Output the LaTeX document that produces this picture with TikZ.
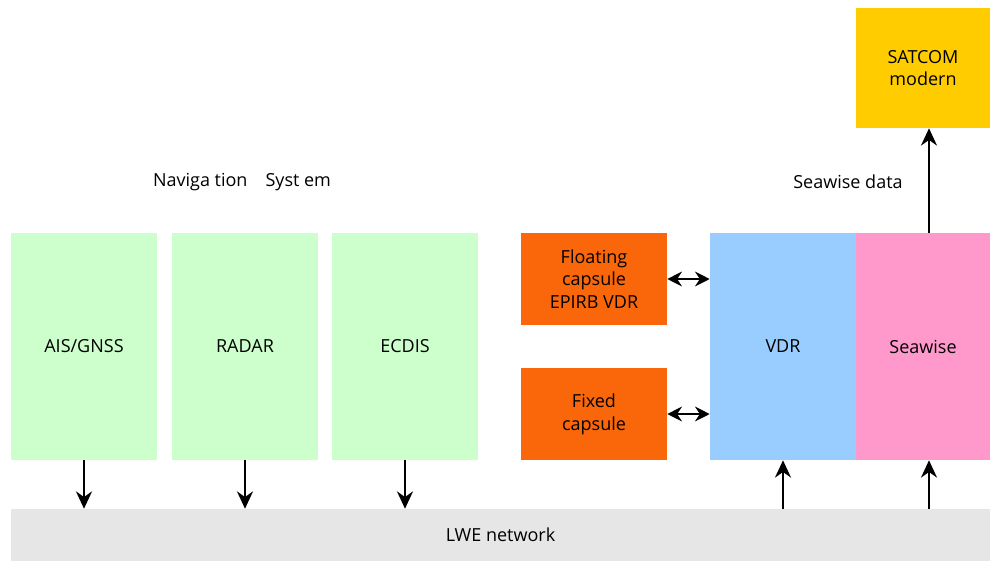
\documentclass[tikz,border=0pt]{standalone}
\usepackage{fontspec}
\setmainfont{Open Sans}
\usetikzlibrary{arrows.meta}
\definecolor{navgreen}{RGB}{204,255,204}
\definecolor{capsorange}{RGB}{250,102,10}
\definecolor{vdrblue}{RGB}{153,204,255}
\definecolor{swpink}{RGB}{255,153,204}
\definecolor{satyellow}{RGB}{255,204,0}
\definecolor{netgray}{RGB}{230,230,230}
\tikzstyle{block} = [rectangle, inner sep=0pt, text centered, align=center, font=\fontsize{13.5}{17}\selectfont]
\tikzstyle{navblock} = [block, fill=navgreen, minimum width=109.5pt, minimum height=170.25pt]
\tikzstyle{capsule} = [block, fill=capsorange, minimum width=109.5pt, minimum height=69pt]
\tikzstyle{line} = [draw, line width=1.5pt, -{Stealth[length=13pt,width=12pt]}]
\tikzstyle{dline} = [draw, line width=1.5pt, {Stealth[length=11pt,width=11pt]}-{Stealth[length=11pt,width=11pt]}]

\begin{document}
\begin{tikzpicture}[x=0.75pt, y=-0.75pt]
	\useasboundingbox (0,0) rectangle (990,561);
	\node [navblock] (ais) at (84,346.5) {AIS/GNSS};
	\node [navblock] (radar) at (245,346.5) {RADAR};
	\node [navblock] (ecdis) at (405,346.5) {ECDIS};
	\node [block] (navlabel) at (242,182) {Naviga tion\quad Syst em};
	
	\node [capsule] (floating) at (594,279) {Floating\\capsule\\EPIRB VDR};
	\node [capsule] (fixed) at (594,414) {Fixed\\capsule};
	
	\node [block, fill=vdrblue, minimum width=109.5pt, minimum height=170.25pt] (vdr) at (783,346.5) {VDR};
	\node [block, fill=swpink, minimum width=100.5pt, minimum height=170.25pt] (seawise) at (923,346.5) {Seawise};
	\node [block, fill=satyellow, minimum width=100.5pt, minimum height=90pt] (satcom) at (923,68) {SATCOM\\modern};
	\node [block] (swdata) at (848,182) {Seawise data};
	
	\node [block, fill=netgray, minimum width=734.25pt, minimum height=39pt] (lwe) at (500.5,535) {LWE network};
	\coordinate (swlink) at (929,0);
	
	\path[line] (ais.south) -- (ais |- lwe.north);
	\path[line] (radar.south) -- (radar |- lwe.north);
	\path[line] (ecdis.south) -- (ecdis |- lwe.north);
	\path[line] (lwe.north -| vdr) -- (vdr.south);
	\path[line] (lwe.north -| swlink) -- (seawise.south -| swlink);
	\path[line] (seawise.north -| swlink) -- (satcom.south -| swlink);
	\path[dline] (floating.east) -- (floating -| vdr.west);
	\path[dline] (fixed.east) -- (fixed -| vdr.west);
\end{tikzpicture}
\end{document}
